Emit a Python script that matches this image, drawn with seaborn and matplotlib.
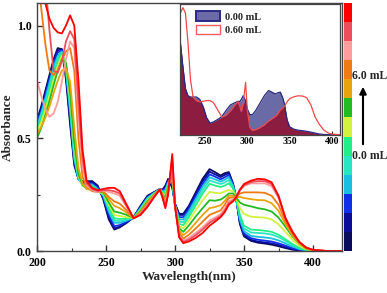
import numpy as np
import pandas as pd
import matplotlib
matplotlib.use("Agg")
import matplotlib.pyplot as plt
import seaborn as sns
from matplotlib.colors import ListedColormap
from matplotlib.patches import Patch
from matplotlib.ticker import MultipleLocator

# ---------------- data ----------------
wavelength = [200, 203, 206, 209, 212, 215, 218, 221, 224, 227, 230, 233, 236, 240, 244, 248,
              252, 256, 260, 265, 270, 275, 280, 285, 289, 291, 293, 295, 298, 300, 303,
              306, 310, 315, 320, 325, 329, 333, 336, 339, 342, 344, 347, 350,
              355, 360, 365, 370, 375, 380, 385, 390, 395, 400, 410, 420]

v00 = [0.58, 0.64, 0.71, 0.78, 0.85, 0.90, 0.895, 0.76, 0.56, 0.38, 0.32, 0.31, 0.31, 0.31, 0.29, 0.23,
       0.14, 0.095, 0.105, 0.125, 0.15, 0.2, 0.245, 0.262, 0.275, 0.272, 0.29, 0.32, 0.28, 0.21, 0.165,
       0.165, 0.20, 0.26, 0.32, 0.363, 0.35, 0.335, 0.345, 0.35, 0.30, 0.245, 0.12, 0.065,
       0.045, 0.037, 0.033, 0.028, 0.021, 0.013, 0.006, 0.002, 0.0, 0.0, 0.0, 0.0]
v05 = [0.575, 0.63, 0.70, 0.77, 0.84, 0.89, 0.895, 0.78, 0.58, 0.39, 0.32, 0.305, 0.305, 0.305, 0.285, 0.235,
       0.15, 0.10, 0.108, 0.127, 0.15, 0.197, 0.242, 0.261, 0.274, 0.27, 0.285, 0.315, 0.29, 0.21, 0.16,
       0.16, 0.195, 0.252, 0.31, 0.352, 0.34, 0.328, 0.337, 0.345, 0.298, 0.245, 0.125, 0.07,
       0.05, 0.042, 0.038, 0.034, 0.027, 0.018, 0.009, 0.004, 0.001, 0.0, 0.0, 0.0]
v10 = [0.57, 0.62, 0.69, 0.76, 0.83, 0.88, 0.89, 0.79, 0.60, 0.40, 0.32, 0.30, 0.30, 0.30, 0.28, 0.24,
       0.16, 0.11, 0.115, 0.13, 0.148, 0.194, 0.238, 0.26, 0.274, 0.268, 0.278, 0.31, 0.30, 0.205, 0.15,
       0.15, 0.185, 0.242, 0.298, 0.34, 0.33, 0.318, 0.327, 0.337, 0.295, 0.244, 0.132, 0.078,
       0.057, 0.05, 0.046, 0.042, 0.034, 0.024, 0.013, 0.006, 0.002, 0.0, 0.0, 0.0]
v15 = [0.56, 0.61, 0.675, 0.745, 0.815, 0.865, 0.885, 0.80, 0.62, 0.41, 0.32, 0.295, 0.295, 0.295, 0.275, 0.245,
       0.175, 0.125, 0.125, 0.135, 0.148, 0.19, 0.235, 0.258, 0.273, 0.265, 0.27, 0.305, 0.31, 0.205, 0.14,
       0.14, 0.175, 0.23, 0.285, 0.327, 0.318, 0.308, 0.316, 0.327, 0.29, 0.243, 0.14, 0.088,
       0.067, 0.063, 0.06, 0.056, 0.047, 0.034, 0.02, 0.009, 0.003, 0.001, 0.0, 0.0]
v20 = [0.55, 0.60, 0.66, 0.73, 0.80, 0.855, 0.88, 0.81, 0.64, 0.42, 0.325, 0.295, 0.29, 0.29, 0.27, 0.25,
       0.185, 0.135, 0.133, 0.14, 0.147, 0.187, 0.232, 0.256, 0.273, 0.262, 0.262, 0.30, 0.32, 0.20, 0.13,
       0.128, 0.163, 0.218, 0.27, 0.313, 0.305, 0.297, 0.304, 0.315, 0.285, 0.242, 0.15, 0.10,
       0.082, 0.08, 0.078, 0.073, 0.062, 0.045, 0.026, 0.012, 0.004, 0.001, 0.0, 0.0]
v25 = [0.54, 0.585, 0.645, 0.71, 0.78, 0.84, 0.875, 0.82, 0.66, 0.44, 0.33, 0.29, 0.285, 0.285, 0.268, 0.25,
       0.195, 0.145, 0.142, 0.145, 0.147, 0.184, 0.228, 0.255, 0.273, 0.258, 0.255, 0.295, 0.33, 0.20, 0.12,
       0.115, 0.15, 0.203, 0.255, 0.298, 0.29, 0.284, 0.29, 0.30, 0.278, 0.241, 0.16, 0.112,
       0.095, 0.093, 0.09, 0.085, 0.072, 0.052, 0.031, 0.014, 0.005, 0.001, 0.0, 0.0]
v30 = [0.53, 0.57, 0.625, 0.69, 0.76, 0.82, 0.865, 0.83, 0.68, 0.46, 0.335, 0.29, 0.28, 0.28, 0.265, 0.255,
       0.205, 0.16, 0.155, 0.15, 0.146, 0.18, 0.224, 0.253, 0.273, 0.255, 0.245, 0.29, 0.34, 0.20, 0.11,
       0.10, 0.133, 0.18, 0.225, 0.262, 0.258, 0.256, 0.264, 0.27, 0.265, 0.24, 0.19, 0.165,
       0.152, 0.15, 0.148, 0.14, 0.118, 0.085, 0.05, 0.024, 0.008, 0.002, 0.0, 0.0]
v35 = [0.50, 0.545, 0.60, 0.665, 0.735, 0.80, 0.85, 0.835, 0.70, 0.48, 0.34, 0.295, 0.275, 0.275, 0.265, 0.26,
       0.215, 0.175, 0.17, 0.16, 0.146, 0.177, 0.22, 0.251, 0.273, 0.251, 0.235, 0.285, 0.345, 0.20, 0.10,
       0.085, 0.113, 0.153, 0.19, 0.225, 0.223, 0.228, 0.24, 0.255, 0.255, 0.239, 0.215, 0.205,
       0.198, 0.19, 0.185, 0.175, 0.148, 0.108, 0.065, 0.033, 0.012, 0.003, 0.0, 0.0]
v40 = [0.52, 0.55, 0.59, 0.64, 0.70, 0.755, 0.80, 0.81, 0.75, 0.55, 0.37, 0.30, 0.275, 0.27, 0.265, 0.265,
       0.23, 0.20, 0.19, 0.17, 0.145, 0.173, 0.215, 0.249, 0.273, 0.248, 0.225, 0.278, 0.36, 0.20, 0.09,
       0.07, 0.09, 0.125, 0.16, 0.19, 0.195, 0.203, 0.222, 0.245, 0.245, 0.238, 0.24, 0.235,
       0.23, 0.226, 0.225, 0.212, 0.178, 0.12, 0.07, 0.034, 0.012, 0.003, 0.0, 0.0]
v45 = [1.25, 1.08, 0.92, 0.80, 0.78, 0.80, 0.845, 0.885, 0.90, 0.80, 0.50, 0.33, 0.285, 0.265, 0.262, 0.265,
       0.24, 0.22, 0.21, 0.18, 0.145, 0.17, 0.21, 0.247, 0.273, 0.245, 0.215, 0.27, 0.38, 0.20, 0.08,
       0.055, 0.072, 0.10, 0.13, 0.16, 0.17, 0.18, 0.205, 0.235, 0.238, 0.237, 0.255, 0.26,
       0.26, 0.26, 0.258, 0.245, 0.205, 0.132, 0.078, 0.037, 0.013, 0.004, 0.0, 0.0]
v50 = [0.757, 0.69, 0.63, 0.595, 0.61, 0.66, 0.75, 0.85, 0.93, 0.90, 0.60, 0.38, 0.29, 0.27, 0.262, 0.268,
       0.262, 0.255, 0.245, 0.195, 0.145, 0.166, 0.205, 0.245, 0.273, 0.241, 0.205, 0.262, 0.40, 0.20, 0.07,
       0.045, 0.058, 0.08, 0.105, 0.135, 0.148, 0.163, 0.188, 0.222, 0.228, 0.236, 0.268, 0.288,
       0.30, 0.30, 0.30, 0.288, 0.235, 0.145, 0.085, 0.04, 0.015, 0.005, 0.0, 0.0]
v55 = [1.7, 1.45, 1.2, 0.98, 0.80, 0.79, 0.84, 0.93, 0.975, 0.94, 0.66, 0.41, 0.30, 0.275, 0.266, 0.27,
       0.27, 0.265, 0.255, 0.2, 0.145, 0.163, 0.2, 0.242, 0.273, 0.238, 0.197, 0.256, 0.415, 0.20, 0.065,
       0.04, 0.05, 0.07, 0.095, 0.125, 0.14, 0.155, 0.178, 0.212, 0.224, 0.235, 0.27, 0.292,
       0.306, 0.31, 0.31, 0.297, 0.242, 0.148, 0.087, 0.041, 0.015, 0.005, 0.0, 0.0]
v60 = [1.45, 1.25, 1.10, 1.03, 0.99, 0.97, 0.965, 1.0, 1.045, 1.0, 0.76, 0.45, 0.31, 0.28, 0.27, 0.275,
       0.28, 0.28, 0.265, 0.205, 0.145, 0.16, 0.195, 0.24, 0.273, 0.235, 0.19, 0.25, 0.43, 0.20, 0.06,
       0.035, 0.042, 0.058, 0.08, 0.112, 0.13, 0.15, 0.172, 0.205, 0.22, 0.235, 0.272, 0.297,
       0.312, 0.32, 0.318, 0.305, 0.245, 0.145, 0.085, 0.04, 0.015, 0.005, 0.0, 0.0]

volumes = ["0.0", "0.5", "1.0", "1.5", "2.0", "2.5", "3.0", "3.5", "4.0", "4.5", "5.0", "5.5", "6.0"]
series = [v00, v05, v10, v15, v20, v25, v30, v35, v40, v45, v50, v55, v60]
colors = ["#0b0b5e", "#0c0c9a", "#1030e8", "#18bfe0", "#28e6c4", "#22ee88", "#d2f23e",
          "#22bb22", "#e8a40c", "#f07a14", "#ff9c9c", "#ee4d5c", "#ff0000"]

inset_labels = ["0.00 mL", "0.60 mL"]
bar_labels = ["6.0 mL", "0.0 mL"]

# ---------------- style ----------------
sns.set_theme(style="white")
plt.rcParams["font.family"] = ["Liberation Serif", "DejaVu Serif"]
plt.rcParams["font.weight"] = "bold"
plt.rcParams["axes.labelweight"] = "bold"

W, H = 387, 293
fig = plt.figure(figsize=(W / 100, H / 100), dpi=100)

# ---------------- main axes ----------------
ax = fig.add_axes([37 / W, 42 / H, 305 / W, 248 / H])
df = pd.concat([pd.DataFrame({"wl": wavelength, "A": s, "vol": v})
                for v, s in zip(volumes, series)], ignore_index=True)
sns.lineplot(data=df, x="wl", y="A", hue="vol", hue_order=volumes,
             palette=dict(zip(volumes, colors)), estimator=None, sort=False,
             legend=False, linewidth=1.3, ax=ax)
ax.set_xlim(200, 421)
ax.set_ylim(0, 1.1)
ax.set_xticks([200, 250, 300, 350, 400])
ax.set_yticks([0.0, 0.5, 1.0])
ax.set_yticklabels(["0.0", "0.5", "1.0"])
ax.xaxis.set_minor_locator(MultipleLocator(25))
ax.yaxis.set_minor_locator(MultipleLocator(0.25))
ax.tick_params(which="both", direction="in", bottom=True, left=True, top=False, right=False,
               colors="#333333", labelcolor="black")
ax.tick_params(which="major", length=4, width=1, labelsize=8.5, pad=4)
ax.tick_params(which="minor", length=2, width=0.8)
for lab in ax.get_xticklabels() + ax.get_yticklabels():
    lab.set_fontweight("bold")
ax.set_xlabel("Wavelength(nm)", fontsize=9.5, fontweight="bold", labelpad=2)
ax.set_ylabel("Absorbance", fontsize=9.5, fontweight="bold", labelpad=2)
for sp in ax.spines.values():
    sp.set_color("#444444")
    sp.set_linewidth(1.0)

# ---------------- inset ----------------
axi = fig.add_axes([179.5 / W, (H - 134.7) / H, 160.2 / W, 130.7 / H])
wl_arr = np.array(wavelength)
a0 = np.array(v00)
a6 = np.array(v60)
axi.fill_between(wl_arr, 0, a0, color="#6a6aa6", linewidth=0)
axi.fill_between(wl_arr, 0, np.minimum(a0, a6), color="#8c1c40", linewidth=0)
ins = pd.DataFrame({"wl": wavelength + wavelength,
                    "A": v00 + v60,
                    "lab": [inset_labels[0]] * len(wavelength) + [inset_labels[1]] * len(wavelength)})
sns.lineplot(data=ins, x="wl", y="A", hue="lab", hue_order=inset_labels,
             palette={inset_labels[0]: "#2a2a80", inset_labels[1]: "#f04848"},
             estimator=None, sort=False, legend=False, linewidth=0.9, ax=axi)
axi.set_xlim(220, 409)
axi.set_ylim(0, 1.075)
axi.set_xticks([250, 300, 350, 400])
axi.xaxis.set_minor_locator(MultipleLocator(25))
axi.set_yticks([])
axi.set_xlabel("")
axi.set_ylabel("")
axi.tick_params(which="both", direction="in", bottom=True, left=False, top=False, right=False,
                colors="#333333", labelcolor="black")
axi.tick_params(which="major", length=3, width=0.8, labelsize=7, pad=2)
axi.tick_params(which="minor", length=1.5, width=0.6)
for lab in axi.get_xticklabels():
    lab.set_fontweight("bold")
for sp in axi.spines.values():
    sp.set_color("#444444")
    sp.set_linewidth(0.9)
handles = [Patch(facecolor="#6a6aa6", edgecolor="#2a2a85", linewidth=1.4),
           Patch(facecolor="white", edgecolor="#f06060", linewidth=1.0)]
axi.legend(handles, inset_labels, loc="upper left", frameon=False,
           prop={"size": 7.5, "weight": "bold"}, handlelength=2.3, handleheight=1.0,
           labelspacing=0.35, handletextpad=0.4, borderaxespad=0.3,
           bbox_to_anchor=(0.06, 1.0))

# ---------------- colour bar ----------------
cax = fig.add_axes([344 / W, 42 / H, 8 / W, 248 / H])
cax.imshow(np.arange(len(colors))[::-1].reshape(-1, 1), cmap=ListedColormap(colors),
           aspect="auto", interpolation="nearest")
cax.axis("off")

fig.text(352 / W, 1 - 76 / H, bar_labels[0], fontsize=8.5, fontweight="bold",
         ha="left", va="center")
fig.text(352 / W, 1 - 156 / H, bar_labels[1], fontsize=8.5, fontweight="bold",
         ha="left", va="center")
fig.add_artist(matplotlib.patches.FancyArrowPatch(
    (363 / W, 1 - 147 / H), (363 / W, 1 - 84 / H), transform=fig.transFigure,
    arrowstyle="-|>", mutation_scale=10, color="black", linewidth=1.5))

fig.savefig("out.png", dpi=100)
